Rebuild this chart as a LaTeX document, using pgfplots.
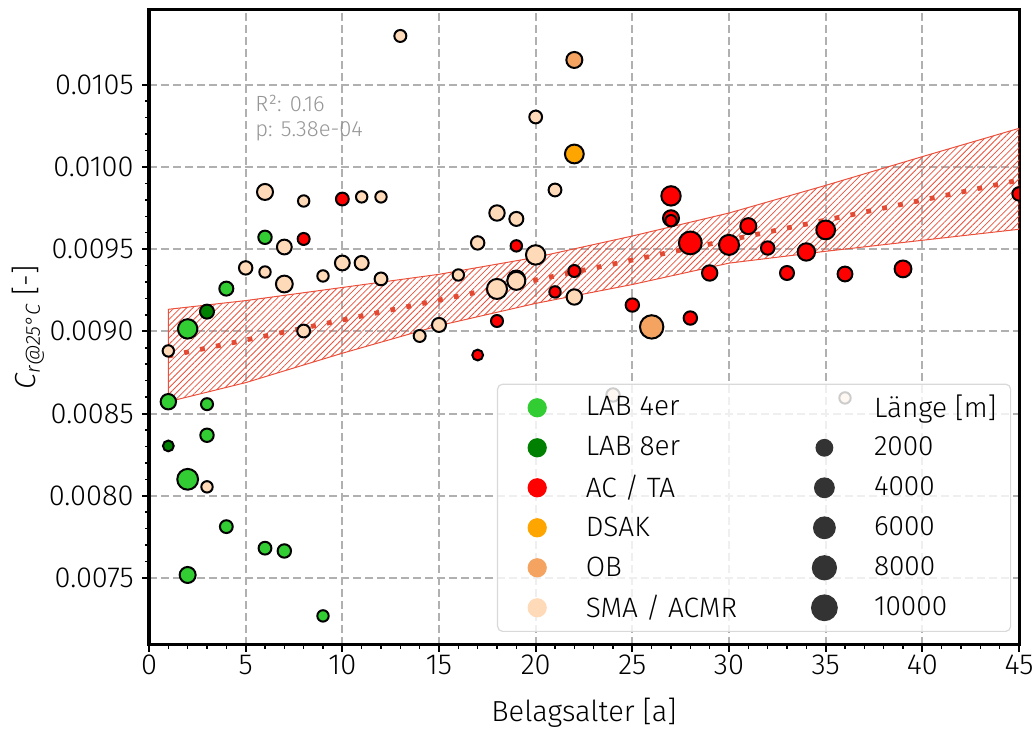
\documentclass[border=0pt]{standalone}
\usepackage{fontspec}
\setmainfont{Fira Sans}[UprightFont=* Light, ItalicFont=* Light Italic]
\usepackage{pgfplots}
\pgfplotsset{compat=1.18}
\usepackage{pgfplotstable}
\usetikzlibrary{patterns.meta}

\definecolor{cLABa}{RGB}{50,205,50}
\definecolor{cLABb}{RGB}{0,128,0}
\definecolor{cAC}{RGB}{255,0,0}
\definecolor{cDSAK}{RGB}{255,165,0}
\definecolor{cOB}{RGB}{244,164,96}
\definecolor{cSMA}{RGB}{255,218,185}
\definecolor{cdark}{RGB}{51,51,51}
\definecolor{bandc}{RGB}{235,80,60}
\definecolor{linec}{RGB}{226,74,51}
\definecolor{gridc}{RGB}{176,176,176}
\definecolor{legc}{RGB}{217,217,217}
\definecolor{annc}{RGB}{150,150,150}

\newcommand{\lf}{\fontsize{14.5}{17}\selectfont}
\newcommand{\lgf}{\fontsize{14}{17}\selectfont}

\pgfplotstableread{
x y r
1 0.008572 8
2 0.009015 10
4 0.00926 7.3
6 0.009572 7
3 0.008557 6.3
3 0.008368 7
2 0.0081 10.7
4 0.007812 6.7
6 0.007681 6.7
7 0.007664 7
2 0.007518 8.3
9 0.007269 6
}\tLABa

\pgfplotstableread{
x y r
1 0.008303 5.7
3 0.00912 7.3
}\tLABb

\pgfplotstableread{
x y r
8 0.009562 6.3
10 0.009805 6.7
17 0.008856 5.7
18 0.009063 6.3
19 0.00952 6
21 0.00924 6
22 0.009367 6.3
25 0.00916 7
27 0.009824 10
27 0.009688 8.3
27 0.009673 6
28 0.009538 11.7
28 0.009081 7
29 0.009355 8
30 0.009526 10.3
31 0.00964 8.3
32 0.009507 7
33 0.009355 7.3
34 0.009483 9
35 0.009617 9.7
36 0.009349 7.7
39 0.00938 8.7
45 0.009836 7
}\tAC

\pgfplotstableread{
x y r
22 0.010079 9.7
19 0.009317 9
}\tDSAK

\pgfplotstableread{
x y r
22 0.010651 8.3
26 0.009027 12
}\tOB

\pgfplotstableread{
x y r
13 0.010797 6.3
20 0.010304 6.7
21 0.00986 6.7
6 0.009848 8.3
8 0.009793 6
11 0.009818 6
12 0.009818 6
7 0.009513 7.7
5 0.009386 7
6 0.009361 6
7 0.009288 8.7
9 0.009337 6
10 0.009416 7.7
11 0.009416 7.3
12 0.009319 6.7
8 0.009002 6.7
1 0.008881 6
3 0.008054 6
14 0.008972 6.3
15 0.009039 7.3
16 0.009343 6
17 0.009538 7
18 0.00972 8
19 0.009684 7.3
18 0.009258 10.3
19 0.009307 9.3
20 0.009465 10
22 0.009209 8
24 0.008613 7
36 0.008595 6
}\tSMA

\pgfplotsset{
  cat/.style={only marks, mark=*, scatter,
    scatter/use mapped color={draw=black, fill=#1},
    mark options={line width=1pt},
    visualization depends on={\thisrow{r}/2-0.15 \as \ms},
    scatter/@pre marker code/.append style={/tikz/mark size=\ms},
    legend image code/.code={\fill[#1, fill opacity=1] (0pt,0pt) circle (4.5pt); \path (-12.5pt,-7pt) (12.5pt,7pt);}},
  sz/.style={legend image code/.code={\fill[cdark, fill opacity=1] (0pt,0pt) circle (#1); \path (-27.5pt,-7pt) (13pt,7pt);}},
}

\begin{document}
\begin{tikzpicture}
\begin{axis}[
  scale only axis, width=435pt, height=317.5pt,
  xmin=0, xmax=45, ymin=0.007092, ymax=0.010955,
  xtick={0,5,...,45},
  ytick={0.0075,0.0080,0.0085,0.0090,0.0095,0.0100,0.0105},
  minor x tick num=4, minor y tick num=4,
  tick pos=left, tick align=outside,
  major tick length=3.5pt, minor tick length=2pt,
  tick style={black, line width=1pt},
  minor tick style={line width=0.75pt},
  axis line style={line width=1.5pt},
  grid=major,
  major grid style={gridc, line width=1pt, dash pattern=on 4pt off 2pt},
  scaled y ticks=false,
  /pgf/number format/assume math mode=true,
  ticklabel style={font=\lf},
  yticklabel style={/pgf/number format/fixed, /pgf/number format/fixed zerofill,
    /pgf/number format/precision=4, /tikz/inner sep=0pt, /tikz/xshift=-4pt},
  xticklabel style={inner sep=0pt, anchor=center, yshift=-6.5pt},
  xlabel={Belagsalter [a]},
  ylabel={\textit{C}\textsubscript{\textit{r@25°C}} [-]},
  xlabel style={font=\lf, at={(rel axis cs:0.5,-0.1071)}, anchor=center},
  ylabel style={font=\lf, at={(rel axis cs:-0.1391,0.5)}, anchor=center},
  clip marker paths=true,
  legend columns=2,
  legend cell align=left,
  legend style={at={(rel axis cs:0.4,0.0205)}, anchor=south west, font=\lgf,
    draw=legc, line width=0.6pt, rounded corners=2.5pt, fill=white,
    fill opacity=0.8, text opacity=1, inner xsep=7pt, inner ysep=4.5pt,
    column sep=11.5pt, row sep=5.4pt, nodes={inner sep=0pt}},
]
\coordinate (bl) at (rel axis cs:0,0);
\coordinate (tr) at (rel axis cs:1,1);

\addplot[forget plot, draw=bandc, line width=0.5pt,
  pattern={Lines[angle=45,distance=2.2pt,line width=0.4pt]}, pattern color=bandc]
  coordinates {(1,0.009134) (5,0.009187) (15,0.009347) (20,0.00945) (25,0.00958)
   (30,0.00972) (35,0.009888) (40,0.010063) (45,0.010235)
   (45,0.009621) (40,0.009554) (35,0.009487) (30,0.009415) (25,0.009285)
   (20,0.00917) (15,0.009035) (10,0.008867) (5,0.008688) (1,0.008572)} -- cycle;

\addplot[forget plot, linec, line width=2.4pt, dash pattern=on 2.4pt off 5.7pt]
  coordinates {(1,0.00885) (45,0.00992)};

\addplot[cat=cLABa] table {\tLABa};
\addlegendentry{\makebox[80pt][l]{LAB 4er}}
\addlegendimage{legend image code/.code={\path (-27.5pt,-7pt) (13pt,7pt);}}
\addlegendentry{Länge [m]}
\addplot[cat=cLABb] table {\tLABb};
\addlegendentry{\makebox[80pt][l]{LAB 8er}}
\addlegendimage{sz=4.15pt}
\addlegendentry{2000}
\addplot[cat=cAC] table {\tAC};
\addlegendentry{\makebox[80pt][l]{AC / TA}}
\addlegendimage{sz=4.9pt}
\addlegendentry{4000}
\addplot[cat=cDSAK] table {\tDSAK};
\addlegendentry{\makebox[80pt][l]{DSAK}}
\addlegendimage{sz=5.4pt}
\addlegendentry{6000}
\addplot[cat=cOB] table {\tOB};
\addlegendentry{\makebox[80pt][l]{OB}}
\addlegendimage{sz=6pt}
\addlegendentry{8000}
\addplot[cat=cSMA] table {\tSMA};
\addlegendentry{\makebox[80pt][l]{SMA / ACMR}}
\addlegendimage{sz=6.4pt}
\addlegendentry{10000}

\node[anchor=north west, align=left, font=\fontsize{11}{12.5}\selectfont, text=annc, inner sep=0pt]
  at (rel axis cs:0.1218,0.866) {R²: 0.16\\p: 5.38e-04};
\end{axis}
\pgfresetboundingbox
\path ([shift={(-74.5pt,-43pt)}]bl) rectangle ([shift={(8.5pt,5pt)}]tr);
\end{tikzpicture}
\end{document}
